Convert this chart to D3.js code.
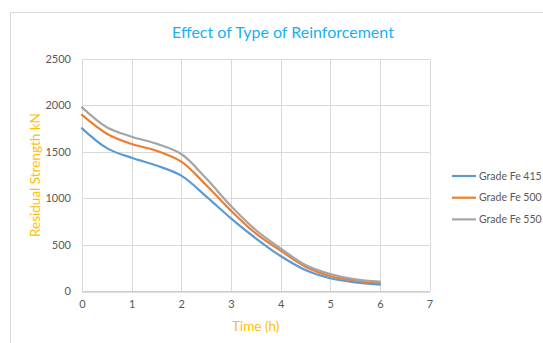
<!DOCTYPE html>
<html><head><meta charset="utf-8">
<script src="https://cdn.jsdelivr.net/npm/d3@7"></script>
<style>body{margin:0;background:#fff;} svg{display:block;font-family:Lato,"Open Sans",sans-serif;}</style>
</head><body>
<svg id="c" width="543" height="343"></svg>
<script>
const hours = [0, 0.5, 1, 1.5, 2, 2.5, 3, 3.5, 4, 4.5, 5, 5.5, 6];
const fe415 = [1753, 1540, 1435, 1352, 1243, 1020, 783, 568, 377, 226, 137, 92, 68];
const fe500 = [1897, 1695, 1584, 1512, 1394, 1142, 866, 621, 435, 262, 162, 111, 85];
const fe550 = [1979, 1765, 1663, 1588, 1476, 1214, 916, 657, 460, 280, 183, 126, 100];
const seriesNames = ["Grade Fe 415", "Grade Fe 500", "Grade Fe 550"];
const seriesColors = ["#5B9BD5", "#ED7D31", "#A5A5A5"];
const xTicks = [0, 1, 2, 3, 4, 5, 6, 7];
const yTicks = [0, 500, 1000, 1500, 2000, 2500];
const titleText = "Effect of Type of Reinforcement";
const xTitle = "Time (h)";
const yTitle = "Residual Strength kN";

const svg = d3.select("#c");
const m = {l: 82, r: 429.5, t: 59, b: 291};
const x = d3.scaleLinear().domain([0, 7]).range([m.l, m.r]);
const y = d3.scaleLinear().domain([0, 2500]).range([m.b, m.t]);

// outer chart border
svg.append("rect").attr("x", 10.5).attr("y", 12.5).attr("width", 600).attr("height", 400)
  .attr("fill", "#fff").attr("stroke", "#d9d9d9");

// gridlines
const g = svg.append("g");
g.selectAll(".hg").data(yTicks).join("line")
  .attr("x1", m.l).attr("x2", m.r)
  .attr("y1", d => Math.round(y(d)) + 0.5).attr("y2", d => Math.round(y(d)) + 0.5)
  .attr("stroke", "#d9d9d9");
g.selectAll(".vg").data(xTicks).join("line")
  .attr("y1", m.t).attr("y2", m.b)
  .attr("x1", d => Math.round(x(d)) + 0.5).attr("x2", d => Math.round(x(d)) + 0.5)
  .attr("stroke", "#d9d9d9");

// axes
const xa = svg.append("g").attr("transform", `translate(0,${Math.round(y(0)) + 0.5})`)
  .call(d3.axisBottom(x).tickValues(xTicks).tickFormat(d3.format("d")).tickSize(0).tickPadding(9));
xa.select(".domain").attr("stroke", "#bfbfbf");
xa.selectAll("text").attr("fill", "#595959").attr("font-size", 11).attr("font-family", "Lato");
const ya = svg.append("g").attr("transform", `translate(${m.l},0)`)
  .call(d3.axisLeft(y).tickValues(yTicks).tickFormat(d3.format("d")).tickSize(0).tickPadding(11));
ya.select(".domain").remove();
ya.selectAll("text").attr("fill", "#595959").attr("font-size", 11).attr("font-family", "Lato");

// lines
const data = [fe415, fe500, fe550];
const line = d3.line().x((d, i) => x(hours[i])).y(d => y(d)).curve(d3.curveCatmullRom.alpha(0.5));
svg.selectAll(".ln").data(data).join("path")
  .attr("d", d => line(d)).attr("fill", "none")
  .attr("stroke", (d, i) => seriesColors[i]).attr("stroke-width", 2.2)
  .attr("stroke-linecap", "round").attr("stroke-linejoin", "round");

// title
svg.append("text").attr("x", 283).attr("y", 38).attr("text-anchor", "middle")
  .attr("fill", "#1AB0EF").attr("font-size", 16).text(titleText);
// axis titles
svg.append("text").attr("x", (m.l + m.r) / 2).attr("y", 331).attr("text-anchor", "middle")
  .attr("fill", "#FFC000").attr("font-size", 13.5).text(xTitle);
svg.append("text").attr("transform", `translate(40,${(m.t + m.b) / 2}) rotate(-90)`)
  .attr("text-anchor", "middle").attr("fill", "#FFC000").attr("font-size", 13.5)
  .text(yTitle);

// legend
const lg = svg.selectAll(".lg").data(seriesNames).join("g")
  .attr("transform", (d, i) => `translate(452,${176 + i * 21.7})`);
lg.append("line").attr("x1", 0).attr("x2", 24).attr("stroke", (d, i) => seriesColors[i]).attr("stroke-width", 2.2);
lg.append("text").attr("x", 27).attr("dy", "0.35em").attr("fill", "#595959").attr("font-size", 10.5).text(d => d);
</script>
</body></html>
